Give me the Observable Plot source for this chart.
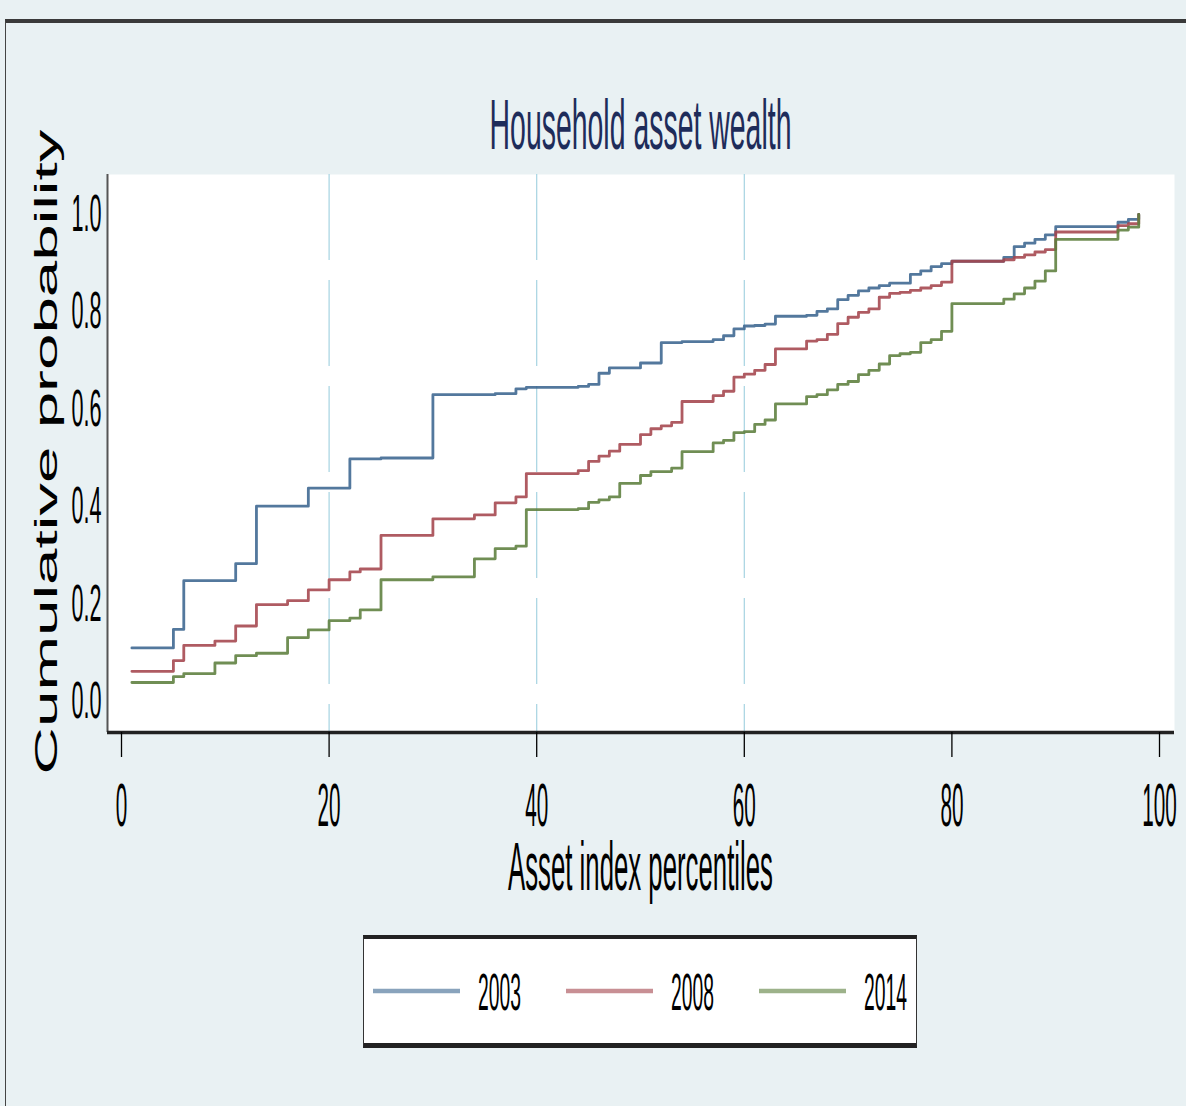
<!DOCTYPE html>
<html>
<head>
<meta charset="utf-8">
<script src="https://cdn.jsdelivr.net/npm/d3@7"></script>
<script src="https://cdn.jsdelivr.net/npm/@observablehq/plot@0.6"></script>
<style>
  html, body { margin: 0; padding: 0; background: #e9f1f3; }
  #fig { position: relative; width: 1186px; height: 1106px; background: #e9f1f3; overflow: hidden;
         font-family: "Liberation Sans", Arial, sans-serif; }
  #border { position: absolute; left: 5px; top: 19px; width: 1300px; height: 1300px;
            border-top: 4px solid #3a3a3a; border-left: 1.5px solid #444; }
  #title, #ylab { position: absolute; left: 0; top: 0; }
  #chart { position: absolute; left: 0; top: 155px; }
  #legendBox { position: absolute; left: 363px; top: 935px; width: 554px; height: 113px; box-sizing: border-box;
               background: #fff; border-top: 4px solid #222; border-bottom: 5px solid #222;
               border-left: 1.5px solid #333; border-right: 1.5px solid #333; }
  #legend { position: absolute; left: 363px; top: 935px; }
</style>
</head>
<body>
<div id="fig">
  <div id="border"></div>
  <div id="chart"></div>
  <svg id="title" width="1186" height="172"></svg>
  <svg id="ylab" width="90" height="1106"></svg>
  <div id="legendBox"></div>
  <svg id="legend" width="554" height="113"></svg>
</div>
<script>
// Survey years and their line colours
const years = ["2003", "2008", "2014"];
const colors = ["#3b6590", "#a4444c", "#5c7e3c"];

// Asset index percentiles where the cumulative distributions step
const pct = [1, 5, 6, 9, 11, 13, 16, 18, 20, 22,
             23, 25, 30, 34, 36, 38, 39, 44, 45, 46,
             47, 48, 50, 51, 52, 53, 54, 57, 58, 59,
             60, 61, 62, 63, 66, 67, 68, 69, 70, 71,
             72, 73, 74, 75, 76, 77, 78, 79, 80, 85,
             86, 87, 88, 89, 90, 96, 97, 98];

// Cumulative probability from each percentile onward
const cdf2003 = [0.110, 0.148, 0.248, 0.248, 0.283, 0.401, 0.401, 0.438, 0.438, 0.498,
                 0.498, 0.500, 0.630, 0.630, 0.632, 0.642, 0.645, 0.647, 0.651, 0.674,
                 0.685, 0.685, 0.695, 0.695, 0.737, 0.737, 0.739, 0.743, 0.751, 0.765,
                 0.771, 0.772, 0.775, 0.791, 0.793, 0.801, 0.806, 0.825, 0.834, 0.843,
                 0.849, 0.854, 0.859, 0.859, 0.877, 0.884, 0.893, 0.899, 0.904, 0.912,
                 0.934, 0.941, 0.949, 0.958, 0.975, 0.984, 0.990, 1.000];
const cdf2008 = [0.062, 0.084, 0.115, 0.124, 0.155, 0.199, 0.207, 0.229, 0.250, 0.266,
                 0.272, 0.341, 0.375, 0.383, 0.408, 0.420, 0.468, 0.474, 0.493, 0.504,
                 0.514, 0.528, 0.548, 0.560, 0.566, 0.573, 0.616, 0.628, 0.637, 0.666,
                 0.672, 0.680, 0.692, 0.724, 0.740, 0.743, 0.754, 0.776, 0.789, 0.799,
                 0.806, 0.830, 0.838, 0.840, 0.844, 0.849, 0.854, 0.861, 0.904, 0.907,
                 0.912, 0.917, 0.923, 0.928, 0.964, 0.977, 0.981, 1.000];
const cdf2014 = [0.039, 0.051, 0.057, 0.079, 0.094, 0.099, 0.131, 0.147, 0.166, 0.171,
                 0.188, 0.250, 0.256, 0.293, 0.314, 0.319, 0.394, 0.396, 0.409, 0.414,
                 0.420, 0.448, 0.464, 0.472, 0.472, 0.479, 0.513, 0.531, 0.536, 0.552,
                 0.554, 0.569, 0.578, 0.611, 0.626, 0.630, 0.640, 0.651, 0.657, 0.671,
                 0.680, 0.693, 0.710, 0.714, 0.717, 0.737, 0.743, 0.760, 0.817, 0.826,
                 0.837, 0.849, 0.863, 0.884, 0.949, 0.968, 0.974, 1.000];

// Axis ticks and texts
const xTicks = [0, 20, 40, 60, 80, 100];
const yTicks = [0, 0.2, 0.4, 0.6, 0.8, 1.0];
const gridX = [20, 40, 60];
const titleText = "Household asset wealth";
const xLabel = "Asset index percentiles";
const yLabel = "Cumulative probability";

const series = [cdf2003, cdf2008, cdf2014];
const rows = years.flatMap((yr, i) => pct.map((p, j) => ({year: yr, pct: p, prob: series[i][j]})));

const xDom = [-1.349, 101.445];
const yDom = [-0.0637, 1.0821];
const FONT = "Liberation Sans, Arial, sans-serif";
const CAP = 0.716; // cap/digit height of the font, in em

const chart = Plot.plot({
  width: 1186,
  height: 765,
  marginTop: 19,
  marginBottom: 188,
  marginLeft: 107,
  marginRight: 12,
  style: {background: "transparent", fontFamily: FONT, color: "#000"},
  x: {domain: xDom},
  y: {domain: yDom},
  color: {domain: years, range: colors},
  marks: [
    Plot.frame({fill: "#ffffff", stroke: null}),
    Plot.ruleX(gridX, {stroke: "#a6d3e1", strokeWidth: 1.2, strokeDasharray: "86 20"}),
    Plot.line(rows, {x: "pct", y: "prob", z: "year", stroke: "year", curve: "step-after",
                     strokeWidth: 2.8, strokeOpacity: 0.88}),
    Plot.ruleX([xDom[0]], {stroke: "#555", strokeWidth: 2}),
    Plot.ruleY([yDom[0]], {stroke: "#222", strokeWidth: 3.5}),
    Plot.axisX(xTicks, {tickSize: 25, tickPadding: 25, fontSize: 20.7, label: null, stroke: "#000", strokeWidth: 1.3}),
    Plot.axisY(yTicks, {tickSize: 0, tickPadding: 6, fontSize: 21.6, tickFormat: d3.format(".1f"), label: null})
  ]
});
document.getElementById("chart").appendChild(chart);

// Tall, narrow lettering: keep the natural width, stretch the glyphs vertically
function stretchY(node, fontSize, glyphHeight) {
  const sel = d3.select(node);
  const t = sel.attr("transform") || "";
  sel.attr("font-size", fontSize)
     .attr("transform", `${t} scale(1,${(glyphHeight / (CAP * fontSize)).toFixed(3)})`);
}
const svg = d3.select(chart);
svg.selectAll('g[aria-label="x-axis tick label"] text').each(function () { stretchY(this, 20.7, 44); });
svg.selectAll('g[aria-label="y-axis tick label"] text').each(function () { stretchY(this, 21.6, 37); });

// Size a text so its natural width equals `width`, then stretch it to a cap height
function fitText(sel, width, capHeight) {
  sel.attr("font-size", 40);
  const len = sel.node().getComputedTextLength();
  const fs = 40 * width / len;
  sel.attr("font-size", fs.toFixed(2));
  return (capHeight / (CAP * fs)).toFixed(3);
}

const xl = svg.append("text")
  .attr("text-anchor", "middle").attr("font-family", FONT).attr("fill", "#000")
  .text(xLabel);
xl.attr("transform", `translate(640.5,735) scale(1,${fitText(xl, 265, 49)})`);

// Title
const tt = d3.select("#title").append("text")
  .attr("text-anchor", "middle").attr("font-family", FONT).attr("fill", "#1e2c5a")
  .text(titleText);
tt.attr("transform", `translate(640.5,149) scale(1,${fitText(tt, 302, 51)})`);

// Vertical axis title: stretched along its length
const yl = d3.select("#ylab").append("text")
  .attr("text-anchor", "middle").attr("font-family", FONT).attr("fill", "#000")
  .text(yLabel);
yl.attr("transform", `translate(57,452) rotate(-90) scale(1,${fitText(yl, 645, 23)})`);

// Legend
const leg = d3.select("#legend");
const item = leg.selectAll("g").data(years).join("g")
  .attr("transform", (d, i) => `translate(${10 + i * 193},0)`);
item.append("line")
  .attr("x1", 0).attr("x2", 87).attr("y1", 56).attr("y2", 56)
  .attr("stroke", (d, i) => colors[i]).attr("stroke-opacity", 0.6).attr("stroke-width", 4.5);
item.append("text")
  .attr("font-family", FONT).attr("fill", "#000")
  .attr("font-size", 19.3)
  .attr("transform", `translate(105,75) scale(1,${(37 / (CAP * 19.3)).toFixed(3)})`)
  .text(d => d);
</script>
</body>
</html>
